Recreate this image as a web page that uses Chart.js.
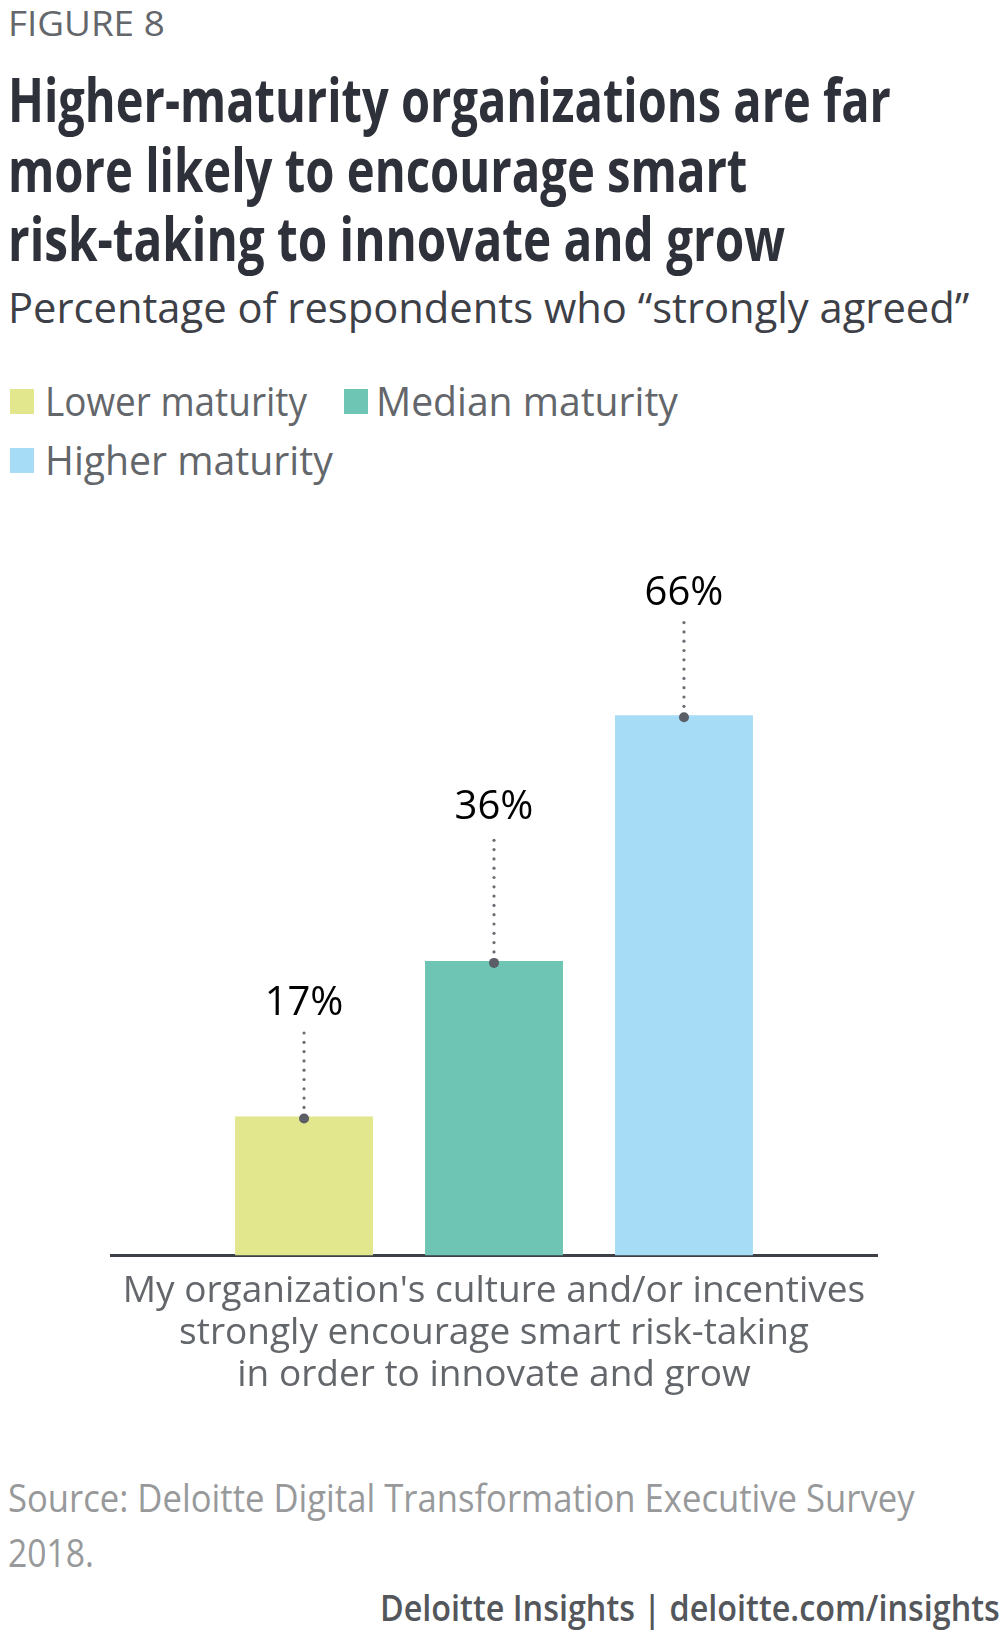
<!DOCTYPE html>
<html>
<head>
<meta charset="utf-8">
<script src="https://cdn.jsdelivr.net/npm/chart.js@4.4.1/dist/chart.umd.min.js"></script>
<style>
body { margin: 0; width: 1000px; height: 1634px; position: relative; background: #fff; font-family: "Open Sans", sans-serif; overflow: hidden; }
.t { position: absolute; white-space: nowrap; display: inline-block; transform-origin: 0 50%; }
.sw { position: absolute; width: 24px; height: 25px; }
#chartBox { position: absolute; left: 0; top: 437px; }
</style>
</head>
<body>
<div class="t" data-w="157" style="left:8px;top:2px;font-size:34px;line-height:42px;color:#63666a">FIGURE 8</div>
<div class="t" data-w="883" style="left:8px;top:64px;font-size:60px;line-height:70px;font-weight:700;color:#2f313a">Higher-maturity organizations are far</div>
<div class="t" data-w="739" style="left:8px;top:134px;font-size:60px;line-height:70px;font-weight:700;color:#2f313a">more likely to encourage smart</div>
<div class="t" data-w="777" style="left:8px;top:203px;font-size:60px;line-height:70px;font-weight:700;color:#2f313a">risk-taking to innovate and grow</div>
<div class="t" data-w="961" style="left:8px;top:282px;font-size:42px;line-height:50px;color:#3d4047">Percentage of respondents who “strongly agreed”</div>

<div id="legend"></div>

<div id="chartBox"><canvas id="chart" width="1000" height="974"></canvas></div>

<div class="t" data-w="907" style="left:8px;top:1474px;font-size:38px;line-height:46px;color:#97999b">Source: Deloitte Digital Transformation Executive Survey</div>
<div class="t" data-w="86" style="left:8px;top:1529px;font-size:38px;line-height:46px;color:#97999b">2018.</div>
<div class="t" data-w="620" data-right="1" style="left:380px;top:1586px;font-size:36px;line-height:44px;font-weight:600;color:#53565a">Deloitte Insights | deloitte.com/insights</div>

<script>
// chart data
const categoryLines = ["My organization's culture and/or incentives", "strongly encourage smart risk-taking", "in order to innovate and grow"];
const seriesNames = ['Lower maturity', 'Median maturity', 'Higher maturity'];
const seriesValues = [17, 36, 66];
const seriesColors = ['#e2e68c', '#6fc5b3', '#a6dcf5'];
// how far each value label sits above its bar (px)
const labelOffsets = [113, 153, 122];

// legend (two rows like the original)
const legendSpots = [
    { sx: 10, sy: 389, tx: 45, ty: 378, w: 262 },
    { sx: 344, sy: 389, tx: 376, ty: 378, w: 302 },
    { sx: 10, sy: 448, tx: 45, ty: 437, w: 288 }
];
const legendEl = document.getElementById('legend');
seriesNames.forEach((name, i) => {
    const p = legendSpots[i];
    const sw = document.createElement('div');
    sw.className = 'sw';
    sw.style.left = p.sx + 'px';
    sw.style.top = p.sy + 'px';
    sw.style.background = seriesColors[i];
    legendEl.appendChild(sw);
    const tx = document.createElement('div');
    tx.className = 't';
    tx.dataset.w = p.w;
    tx.style.cssText += `left:${p.tx}px;top:${p.ty}px;font-size:40px;line-height:46px;color:#63666a`;
    tx.textContent = name;
    legendEl.appendChild(tx);
});

// squeeze text to match the condensed font of the original
function fitText() {
    document.querySelectorAll('.t[data-w]').forEach(el => {
        const w = el.offsetWidth;
        const s = parseFloat(el.dataset.w) / w;
        if (el.dataset.right) {
            el.style.left = (1000 - w) + 'px';
            el.style.transformOrigin = '100% 50%';
        }
        el.style.transform = `scaleX(${s})`;
    });
}

// value labels with dotted leader line
const leaderLabels = {
    id: 'leaderLabels',
    afterDatasetsDraw(chart) {
        const ctx = chart.ctx;
        chart.data.datasets.forEach((ds, i) => {
            const bar = chart.getDatasetMeta(i).data[0];
            const x = bar.x, top = bar.y;
            const ly = top - labelOffsets[i];
            ctx.save();
            ctx.fillStyle = '#6b6e75';
            for (let y = top - 9; y > ly + 24; y -= 9.3) {
                ctx.beginPath();
                ctx.arc(x, y, 1.6, 0, Math.PI * 2);
                ctx.fill();
            }
            ctx.fillStyle = '#5b5e66';
            ctx.beginPath();
            ctx.arc(x, top + 2, 5, 0, Math.PI * 2);
            ctx.fill();
            ctx.fillStyle = '#000';
            ctx.font = '40px "Open Sans"';
            ctx.textAlign = 'center';
            ctx.textBaseline = 'middle';
            ctx.fillText(ds.data[0] + '%', x, ly);
            ctx.restore();
        });
    }
};

function renderChart() {
    const ctx = document.getElementById('chart').getContext('2d');
    new Chart(ctx, {
        type: 'bar',
        data: {
            labels: [categoryLines],
            datasets: seriesNames.map((name, i) => ({
                label: name,
                data: [seriesValues[i]],
                backgroundColor: seriesColors[i],
                barPercentage: 0.726,
                categoryPercentage: 0.744
            }))
        },
        options: {
            responsive: false,
            animation: false,
            layout: { padding: { left: 111, right: 123, top: 0, bottom: 0 } },
            plugins: { legend: { display: false }, tooltip: { enabled: false } },
            scales: {
                x: {
                    grid: { display: false, drawTicks: false },
                    border: { color: '#3d4047', width: 3 },
                    ticks: { font: { family: 'Open Sans', size: 37, lineHeight: 1.13 }, color: '#63666a', padding: 15 }
                },
                y: { display: false, min: 0, max: 100 }
            }
        },
        plugins: [leaderLabels]
    });
}

document.fonts.ready.then(() => {
    fitText();
    renderChart();
});
</script>
</body>
</html>
